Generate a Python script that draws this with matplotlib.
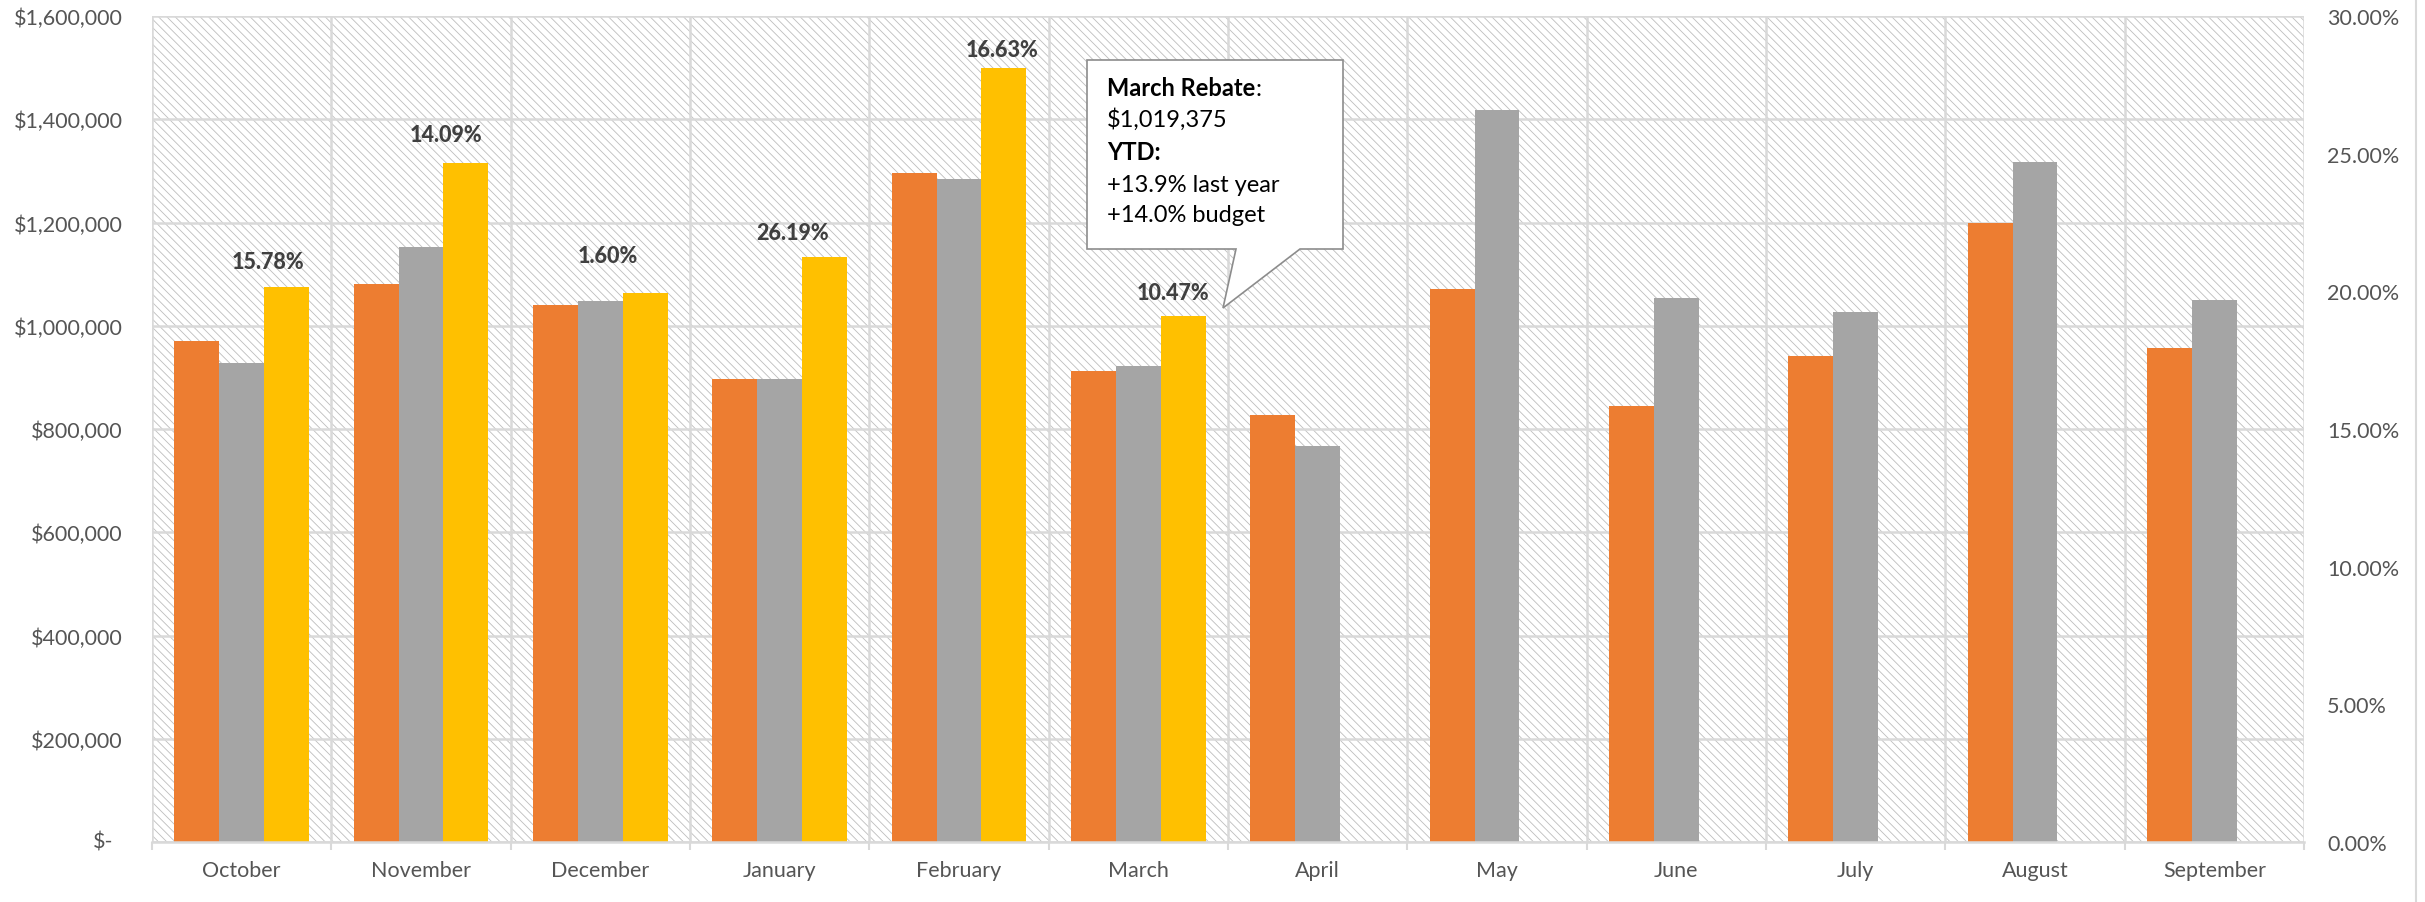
import matplotlib
matplotlib.use("Agg")
import matplotlib.pyplot as plt
from matplotlib.patches import Rectangle, Polygon
from matplotlib.lines import Line2D
from matplotlib.ticker import FuncFormatter
import numpy as np

plt.rcParams['font.family'] = ['Lato', 'DejaVu Sans']
plt.rcParams['hatch.linewidth'] = 0.6

# ---------------- data ----------------
months = ["October", "November", "December", "January", "February", "March",
          "April", "May", "June", "July", "August", "September"]
budget = [970000, 1081000, 1040000, 896000, 1296000, 912000,
          828000, 1071000, 844000, 941000, 1199000, 957000]
last_year = [928000, 1152000, 1047000, 897000, 1284000, 922800,
             767600, 1418500, 1053000, 1026600, 1316600, 1049900]
this_year = [1075000, 1315000, 1063800, 1132600, 1498600, 1019375]
pct_labels = ["15.78%", "14.09%", "1.60%", "26.19%", "16.63%", "10.47%"]
y_ticks = [0, 200000, 400000, 600000, 800000, 1000000, 1200000, 1400000, 1600000]
y2_ticks = [0, 0.05, 0.10, 0.15, 0.20, 0.25, 0.30]
callout_lines = ["$1,019,375", "YTD:", "+13.9% last year", "+14.0% budget"]

# label placement (layout only)
lbl_dx = [0.145, 0.14, 0.04, 0.07, 0.24, 0.195]
lbl_dy = [18.7, 20.5, 26.6, 18.0, 13.7, 16.6]

C_ORANGE = "#ED7D31"
C_GRAY = "#A5A5A5"
C_GOLD = "#FFC000"
C_TEXT = "#555555"
C_GRID = "#D9D9D9"

W, H = 2425, 903
fig = plt.figure(figsize=(W / 100, H / 100), dpi=100)
L, R, T, B = 152, 2304, 17, 843
ax = fig.add_axes([L / W, 1 - B / H, (R - L) / W, (B - T) / H])

x = np.arange(len(months))
w = 0.25
ax.set_xlim(-0.5, len(months) - 0.5)
ax.set_ylim(0, 1600000)

# hatched plot-area background
bg = Rectangle((0, 0), 1, 1, transform=ax.transAxes, facecolor="white",
               edgecolor="#bdbdbd", linewidth=0, hatch="\\\\\\\\", zorder=0.1)
ax.add_patch(bg)

ax.bar(x - w, budget, width=w, color=C_ORANGE, zorder=2)
ax.bar(x, last_year, width=w, color=C_GRAY, zorder=2)
xt = x[:len(this_year)]
ax.bar(xt + w, this_year, width=w, color=C_GOLD, zorder=2)

for i, (lab, v) in enumerate(zip(pct_labels, this_year)):
    ax.annotate(lab, xy=(i + lbl_dx[i], v), xytext=(0, lbl_dy[i]),
                textcoords="offset points", ha="center", va="center",
                fontsize=15.5, fontweight="black", color="#404040", zorder=5)

# grid & ticks
ax.set_axisbelow(True)
ax.set_yticks(y_ticks)
ax.yaxis.set_major_formatter(FuncFormatter(lambda v, p: f"${v:,.0f}" if v > 0 else ""))
ax.yaxis.grid(True, color=C_GRID, linewidth=1.8)
ax.set_xticks(np.arange(-0.5, len(months), 1.0))
ax.set_xticks(x, minor=True)
ax.set_xticklabels(months, minor=True)
ax.xaxis.grid(True, which="major", color=C_GRID, linewidth=1.8)
ax.tick_params(axis="x", which="major", length=6, width=1.5, color=C_GRID,
               labelbottom=False)
ax.tick_params(axis="x", which="minor", length=0, pad=13, labelsize=15.5,
               labelcolor=C_TEXT)
ax.tick_params(axis="y", length=0, pad=21, labelsize=15.5, labelcolor=C_TEXT)
ax.annotate("$-", xy=(0, 0), xycoords="axes fraction", xytext=(-28, 0),
            textcoords="offset points", ha="right", va="center",
            fontsize=15.5, color=C_TEXT)
for s in ["left", "top", "right"]:
    ax.spines[s].set_visible(False)
ax.spines["bottom"].set_color(C_GRID)
ax.spines["bottom"].set_linewidth(1.8)

# secondary axis
ax2 = ax.twinx()
ax2.set_ylim(0, 0.30)
ax2.set_yticks(y2_ticks)
ax2.yaxis.set_major_formatter(FuncFormatter(lambda v, p: f"{v * 100:.2f}%"))
ax2.tick_params(axis="y", length=0, pad=16.5, labelsize=15.5, labelcolor=C_TEXT)
for s in ax2.spines.values():
    s.set_visible(False)

# callout
def fx(px):
    return (px - L) / (R - L)

def fy(py):
    return (B - py) / (B - T)

bl, br, bt, bb = fx(1087), fx(1343), fy(61), fy(250)
pts = [(bl, bt), (br, bt), (br, bb), (fx(1300), bb), (fx(1223), fy(309)),
       (fx(1236), bb), (bl, bb)]
ax.add_patch(Polygon(pts, closed=True, transform=ax.transAxes, facecolor="white",
                     edgecolor="#8c8c8c", linewidth=1.2, zorder=6))
tx = fx(1107)
t0 = ax.text(tx, fy(88), "March Rebate", transform=ax.transAxes, ha="left",
             va="center", fontsize=17, fontweight="bold", color="black", zorder=7)
ax.annotate(":", xy=(1, 0), xycoords=t0, ha="left", va="bottom", fontsize=17,
            color="black", zorder=7)
line_y = [120, 153, 185, 216]
for s, yy in zip(callout_lines, line_y):
    ax.text(tx, fy(yy), s, transform=ax.transAxes, ha="left", va="center",
            fontsize=17, color="black", zorder=7,
            fontweight="bold" if s == "YTD:" else "normal")

# chart area right border
fig.add_artist(Line2D([2416 / W, 2416 / W], [0, 1], transform=fig.transFigure,
                      color=C_GRID, linewidth=1.5))

fig.savefig("out.png", dpi=100)
